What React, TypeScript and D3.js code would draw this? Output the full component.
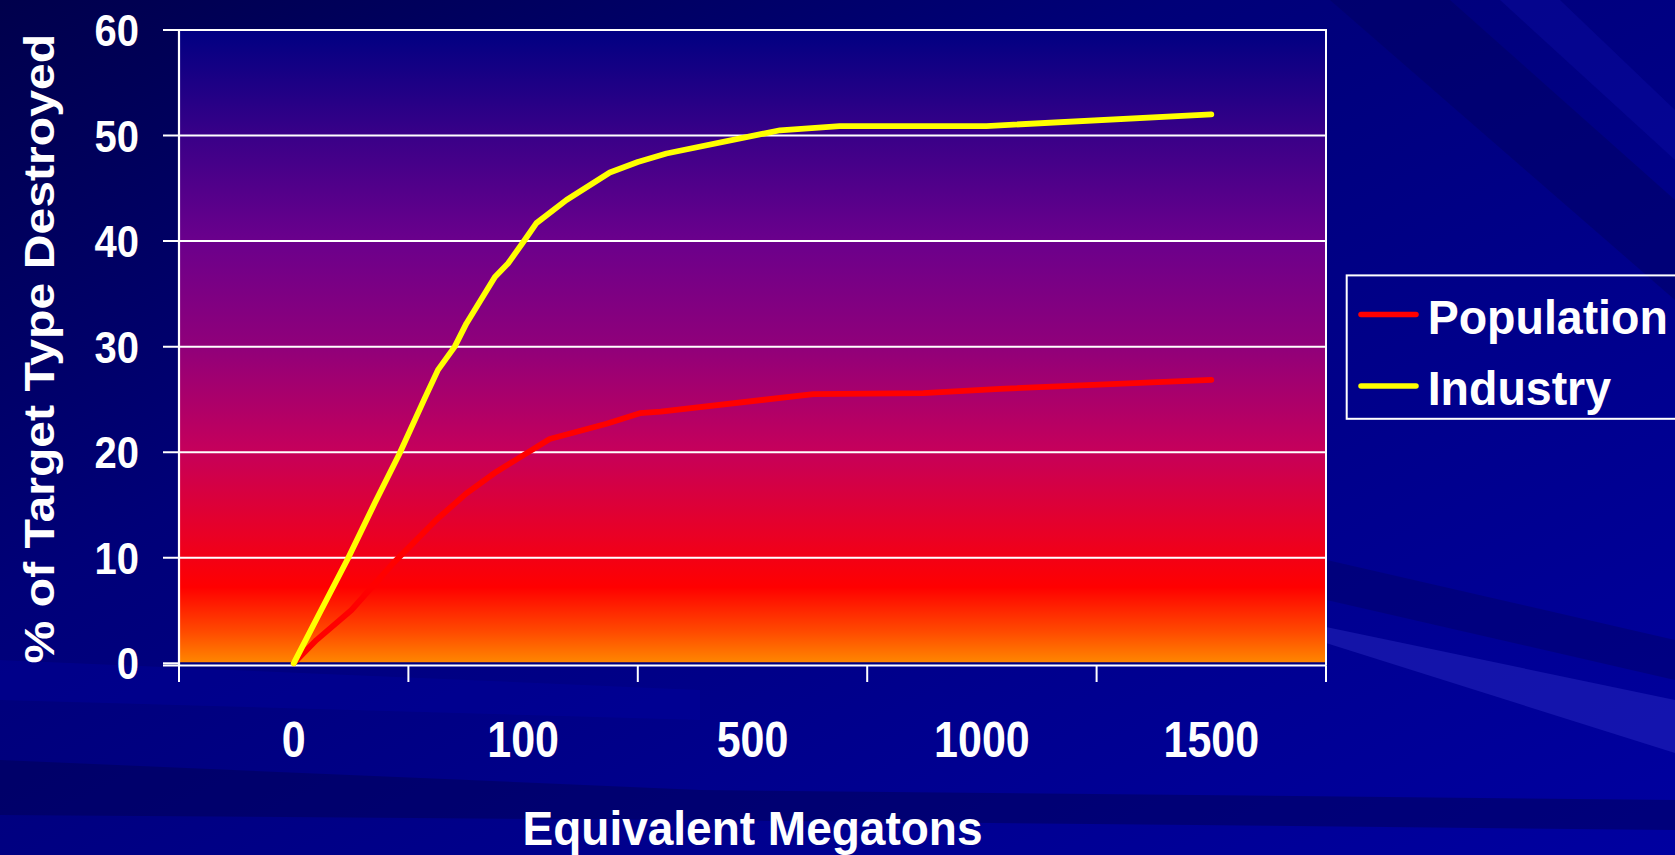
import React from "react";
import * as d3 from "d3";

// ---------- data ----------
const categories = ["0", "100", "500", "1000", "1500"];
const yTicks = [0, 10, 20, 30, 40, 50, 60];

// x positions are expressed in category-index units (0 = "0", 4 = "1500")
const populationX = [0, 0.099, 0.252, 0.433, 0.622, 0.753, 0.884, 1.0, 1.116, 1.364, 1.509, 1.6, 2.265, 2.744, 3.079, 4.0];
const populationY = [0, 2.2, 5.05, 9.47, 13.6, 16.1, 18.15, 19.7, 21.25, 22.7, 23.7, 23.85, 25.5, 25.6, 26.0, 26.85];

const industryX = [0, 0.12, 0.237, 0.353, 0.462, 0.571, 0.629, 0.702, 0.753, 0.877, 0.935, 1.007, 1.058, 1.189, 1.378, 1.5, 1.625, 2.12, 2.38, 3.02, 4.0];
const industryY = [0, 5.05, 9.95, 15.16, 19.9, 25.1, 27.8, 30.0, 32.2, 36.6, 37.9, 40.1, 41.7, 43.9, 46.5, 47.5, 48.3, 50.5, 50.9, 50.9, 52.0];

const seriesNames = ["Population", "Industry"];
const seriesColors = ["#ff0000", "#ffff00"];

const xTitle = "Equivalent Megatons";
const yTitle = "% of Target Type Destroyed";

// ---------- layout ----------
const W = 1675;
const H = 855;
const L = 179;
const R = 1326;
const T = 30;
const B = 663.3;
const FONT = "'Liberation Sans', Arial, Helvetica, sans-serif";

export default function App() {
  const band = d3.scaleBand<string>().domain(categories).range([L, R]).paddingInner(0).paddingOuter(0);
  const xIdx = d3
    .scaleLinear()
    .domain([0, categories.length - 1])
    .range([band(categories[0])! + band.bandwidth() / 2, band(categories[categories.length - 1])! + band.bandwidth() / 2]);
  const y = d3.scaleLinear().domain([0, 60]).range([B, T]);

  const line = d3
    .line<[number, number]>()
    .x((d) => xIdx(d[0]))
    .y((d) => y(d[1]));

  const pop: [number, number][] = populationX.map((v, i) => [v, populationY[i]]);
  const ind: [number, number][] = industryX.map((v, i) => [v, industryY[i]]);

  const tickBounds = categories.map((c) => band(c)!).concat([R]);

  return (
    <svg
      width={W}
      height={H}
      viewBox={`0 0 ${W} ${H}`}
      style={{ position: "fixed", left: 0, top: 0, display: "block" }}
    >
      <defs>
        <linearGradient id="bg" x1="0" y1="0" x2="1" y2="1">
          <stop offset="0%" stopColor="#00004c" />
          <stop offset="35%" stopColor="#000078" />
          <stop offset="70%" stopColor="#00008e" />
          <stop offset="100%" stopColor="#0000a0" />
        </linearGradient>
        <linearGradient id="plotGrad" x1="0" y1="0" x2="0" y2="1">
          <stop offset="0%" stopColor="#000082" />
          <stop offset="17%" stopColor="#3a0088" />
          <stop offset="33%" stopColor="#6a008c" />
          <stop offset="50%" stopColor="#90007a" />
          <stop offset="66%" stopColor="#c4005c" />
          <stop offset="80%" stopColor="#ea0024" />
          <stop offset="88%" stopColor="#ff0000" />
          <stop offset="95%" stopColor="#ff4a00" />
          <stop offset="100%" stopColor="#ff8800" />
        </linearGradient>
      </defs>

      {/* slide background */}
      <rect x={0} y={0} width={W} height={H} fill="url(#bg)" />
      <polygon points="1330,0 1450,0 1675,200 1675,300" fill="#000060" opacity={0.45} />
      <polygon points="1500,0 1560,0 1675,110 1675,160" fill="#1010b0" opacity={0.3} />
      <polygon points="1240,540 1675,640 1675,680 1240,580" fill="#000060" opacity={0.4} />
      <polygon points="1326,627 1675,700 1675,753 1326,643" fill="#3a3ad0" opacity={0.35} />
      <polygon points="0,760 700,790 1675,800 1675,830 700,820 0,815" fill="#000050" opacity={0.45} />
      <polygon points="0,660 700,690 700,720 0,700" fill="#0000a8" opacity={0.3} />

      {/* plot area */}
      <rect x={L} y={T} width={R - L} height={B - T} fill="url(#plotGrad)" />

      {/* gridlines + y ticks */}
      {yTicks.map((t) => (
        <line key={`g${t}`} x1={163} x2={R} y1={y(t)} y2={y(t)} stroke={t === 0 ? "#000080" : "#ffffff"} strokeWidth={2} />
      ))}
      {/* x axis */}
      <line x1={163} x2={R} y1={B + 2.2} y2={B + 2.2} stroke="#ffffff" strokeWidth={2} />
      <line x1={163} x2={L} y1={B} y2={B} stroke="#ffffff" strokeWidth={2} />
      {tickBounds.map((tx, i) => (
        <line key={`xt${i}`} x1={tx} x2={tx} y1={B + 2} y2={682} stroke="#ffffff" strokeWidth={2} />
      ))}
      {/* left & right frame */}
      <line x1={L} x2={L} y1={T - 1} y2={B + 2} stroke="#ffffff" strokeWidth={2.2} />
      <line x1={R} x2={R} y1={T - 1} y2={B + 2} stroke="#ffffff" strokeWidth={2} />

      {/* series */}
      <path d={line(pop) ?? ""} fill="none" stroke={seriesColors[0]} strokeWidth={5.8} strokeLinejoin="round" strokeLinecap="round" />
      <path d={line(ind) ?? ""} fill="none" stroke={seriesColors[1]} strokeWidth={5.8} strokeLinejoin="round" strokeLinecap="round" />

      {/* y tick labels */}
      {yTicks.map((t) => (
        <text
          key={`yl${t}`}
          transform={`translate(139,${y(t) + 16}) scale(1,1.12)`}
          textAnchor="end"
          fontFamily={FONT}
          fontWeight="bold"
          fontSize={40}
          fill="#ffffff"
        >
          {t}
        </text>
      ))}

      {/* x tick labels */}
      {categories.map((c) => (
        <text
          key={`xl${c}`}
          transform={`translate(${band(c)! + band.bandwidth() / 2},757) scale(1,1.14)`}
          textAnchor="middle"
          fontFamily={FONT}
          fontWeight="bold"
          fontSize={43}
          fill="#ffffff"
        >
          {c}
        </text>
      ))}

      {/* axis titles */}
      <text
        transform={`translate(${(L + R) / 2},845) scale(1,1.06)`}
        textAnchor="middle"
        fontFamily={FONT}
        fontWeight="bold"
        fontSize={46}
        fill="#ffffff"
      >
        {xTitle}
      </text>
      <text
        transform={`translate(54,${(T + B) / 2 + 2}) scale(1,1.12) rotate(-90)`}
        textAnchor="middle"
        fontFamily={FONT}
        fontWeight="bold"
        fontSize={43}
        fill="#ffffff"
      >
        {yTitle}
      </text>

      {/* legend */}
      <rect x={1346.7} y={275.4} width={400} height={143.4} fill="none" stroke="#ffffff" strokeWidth={2} />
      {seriesNames.map((n, i) => {
        const ly = i === 0 ? 314.6 : 386;
        const by = i === 0 ? 333.7 : 404.6;
        return (
          <g key={n}>
            <line x1={1361} x2={1416} y1={ly} y2={ly} stroke={seriesColors[i]} strokeWidth={5.5} strokeLinecap="round" />
            <text
              transform={`translate(1427.7,${by}) scale(1,1.05)`}
              fontFamily={FONT}
              fontWeight="bold"
              fontSize={46.5}
              fill="#ffffff"
            >
              {n}
            </text>
          </g>
        );
      })}
    </svg>
  );
}
